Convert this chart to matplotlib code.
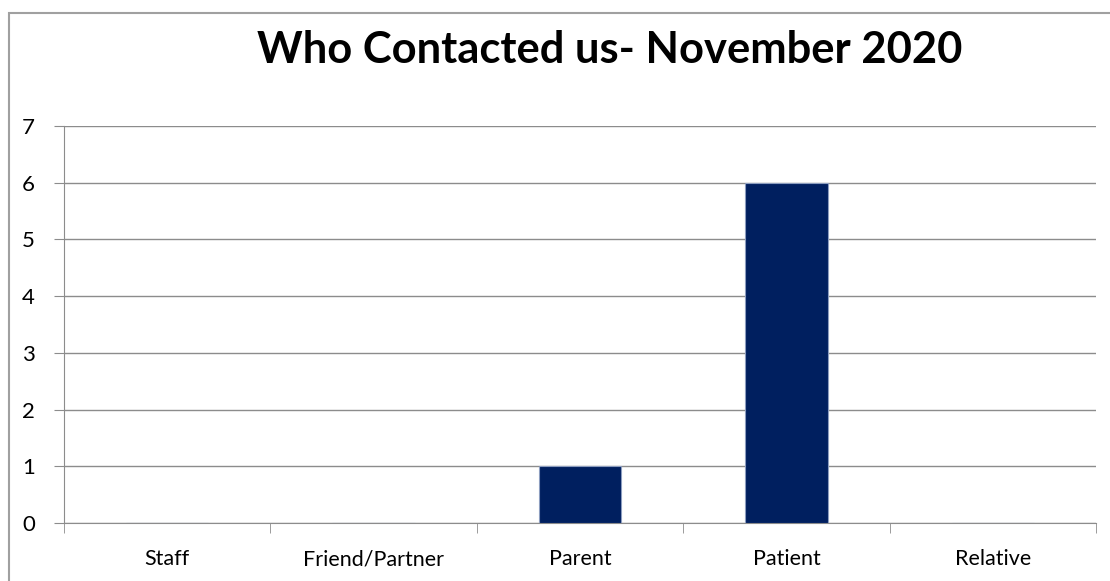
import matplotlib
matplotlib.use("Agg")
import matplotlib.pyplot as plt
from matplotlib.patches import Rectangle

categories = ["Staff", "Friend/Partner", "Parent", "Patient", "Relative"]
values = [0, 0, 1, 6, 0]
title = "Who Contacted us- November 2020"

W, H = 1110, 581
fig = plt.figure(figsize=(W / 100, H / 100), dpi=100)
fig.patch.set_facecolor("white")

# outer chart border (partially cropped at right/bottom)
fig.add_artist(Rectangle((9 / W, -0.05), 1.2, 1 - 13 / H + 0.05, transform=fig.transFigure,
                         fill=False, edgecolor="#a0a0a0", linewidth=1.5))

ax = fig.add_axes([64 / W, 1 - 523 / H, (1096 - 64) / W, (523 - 126) / H])
x = list(range(len(categories)))
ax.bar(x, values, width=0.4, color="#001f5f", edgecolor="#8c9dbf", linewidth=0.8, zorder=3)
ax.set_xlim(-0.5, len(categories) - 0.5)
ax.set_ylim(0, 7)
ax.set_yticks(range(0, 8))
ax.yaxis.grid(True, color="#8c8c8c", linewidth=1.0, zorder=0)
for s in ["top", "right"]:
    ax.spines[s].set_visible(False)
ax.spines["left"].set_color("#8c8c8c")
ax.spines["bottom"].set_color("#8c8c8c")
ax.set_xticks(x)
ax.set_xticklabels(categories, fontsize=15.5, family="Lato")
ax.tick_params(axis="x", length=0, pad=19)
ax.set_xticks([i - 0.5 for i in range(len(categories) + 1)], minor=True)
ax.tick_params(axis="x", which="minor", length=7, color="#8c8c8c")
ax.tick_params(axis="y", length=7, color="#8c8c8c", labelsize=16, pad=14)
for lbl in ax.get_yticklabels():
    lbl.set_family("Lato")

fig.text(610 / W, 1 - 50 / H, title, ha="center", va="center", fontsize=31.3,
         fontweight="bold", family="Lato")

fig.savefig("out.png", dpi=100)
